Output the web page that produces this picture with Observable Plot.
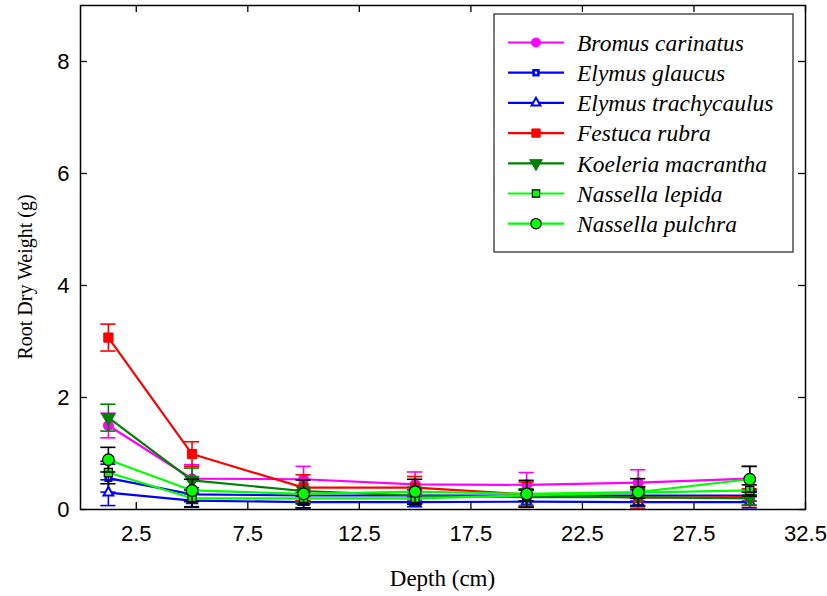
<!DOCTYPE html>
<html>
<head>
<meta charset="utf-8">
<script src="https://cdn.jsdelivr.net/npm/d3@7"></script>
<script src="https://cdn.jsdelivr.net/npm/@observablehq/plot@0.6"></script>
<style>
  body { margin: 0; background: #fff; }
  #chart svg { display: block; }
</style>
</head>
<body>
<div id="chart"></div>
<script>
// Root dry weight by soil depth for seven grass species (mean ± error)
const depth = [1.25, 5, 10, 15, 20, 25, 30];

const bromusMean   = [1.50, 0.55, 0.54, 0.45, 0.44, 0.48, 0.55];
const bromusErr    = [0.22, 0.25, 0.23, 0.22, 0.22, 0.23, 0.22];
const glaucusMean  = [0.56, 0.27, 0.25, 0.25, 0.25, 0.25, 0.25];
const glaucusErr   = [0.25, 0.12, 0.10, 0.10, 0.10, 0.10, 0.10];
const trachyMean   = [0.30, 0.16, 0.13, 0.13, 0.14, 0.13, 0.13];
const trachyErr    = [0.23, 0.12, 0.10, 0.08, 0.10, 0.08, 0.10];
const festucaMean  = [3.07, 0.99, 0.39, 0.39, 0.27, 0.21, 0.22];
const festucaErr   = [0.24, 0.22, 0.23, 0.20, 0.22, 0.20, 0.15];
const koeleriaMean = [1.64, 0.52, 0.33, 0.25, 0.22, 0.22, 0.20];
const koeleriaErr  = [0.24, 0.22, 0.20, 0.15, 0.15, 0.15, 0.12];
const lepidaMean   = [0.66, 0.20, 0.20, 0.20, 0.25, 0.30, 0.34];
const lepidaErr    = [0.20, 0.15, 0.10, 0.10, 0.10, 0.10, 0.10];
const pulchraMean  = [0.89, 0.34, 0.28, 0.32, 0.28, 0.31, 0.54];
const pulchraErr   = [0.22, 0.20, 0.25, 0.22, 0.24, 0.24, 0.23];

const xTicks = [2.5, 7.5, 12.5, 17.5, 22.5, 27.5, 32.5];
const yTicks = [0, 2, 4, 6, 8];

// downward-pointing triangle, sized like d3.symbolTriangle
const sqrt3 = Math.sqrt(3);
const triangleDown = {
  draw(context, size) {
    const y = -Math.sqrt(size / (sqrt3 * 3));
    context.moveTo(0, -y * 2);
    context.lineTo(-sqrt3 * y, y);
    context.lineTo(sqrt3 * y, y);
    context.closePath();
  }
};

const series = [
  {name: "Bromus carinatus",     mean: bromusMean,   err: bromusErr,   color: "#ff00ff", errColor: "#ff00ff", symbol: "circle",   fill: "#ff00ff", stroke: "#ff00ff", r: 5,   sw: 1},
  {name: "Elymus glaucus",       mean: glaucusMean,  err: glaucusErr,  color: "#0000ff", errColor: "#0000ff", symbol: "square",   fill: "#ffffff", stroke: "#0000ff", r: 3,   sw: 2.6},
  {name: "Elymus trachycaulus",  mean: trachyMean,   err: trachyErr,   color: "#0000ff", errColor: "#0000ff", symbol: "triangle", fill: "#ffffff", stroke: "#0000ff", r: 3.6, sw: 2},
  {name: "Festuca rubra",        mean: festucaMean,  err: festucaErr,  color: "#ff0000", errColor: "#ff0000", symbol: "square",   fill: "#ff0000", stroke: "#ff0000", r: 5.2, sw: 1},
  {name: "Koeleria macrantha",   mean: koeleriaMean, err: koeleriaErr, color: "#008000", errColor: "#008000", symbol: triangleDown, fill: "#008000", stroke: "#008000", r: 5.2, sw: 1},
  {name: "Nassella lepida",      mean: lepidaMean,   err: lepidaErr,   color: "#00ff00", errColor: "#000000", symbol: "square",   fill: "#00ff00", stroke: "#000000", r: 4.6, sw: 1.2},
  {name: "Nassella pulchra",     mean: pulchraMean,  err: pulchraErr,  color: "#00ff00", errColor: "#000000", symbol: "circle",   fill: "#00ff00", stroke: "#000000", r: 5.8, sw: 1.2}
];

const rows = series.flatMap(s => depth.map((x, i) => ({species: s.name, x, y: s.mean[i], e: s.err[i]})));

const W = 827, H = 596;
const mL = 80, mR = 22, mT = 5, mB = 87;
const innerW = W - mL - mR, innerH = H - mT - mB;
const capHalf = 0.34; // half width of the error-bar caps, in cm
const tickLen = 7;
const serif = "'Liberation Serif', 'Times New Roman', serif";

const seriesMarks = series.flatMap(s => {
  const data = rows.filter(d => d.species === s.name);
  return [
    Plot.ruleX(data, {x: "x", y1: d => d.y - d.e, y2: d => d.y + d.e, stroke: s.errColor, strokeWidth: 1.6}),
    Plot.ruleY(data, {y: d => d.y + d.e, x1: d => d.x - capHalf, x2: d => d.x + capHalf, stroke: s.errColor, strokeWidth: 1.6}),
    Plot.ruleY(data, {y: d => d.y - d.e, x1: d => d.x - capHalf, x2: d => d.x + capHalf, stroke: s.errColor, strokeWidth: 1.6}),
    Plot.line(data, {x: "x", y: "y", stroke: s.color, strokeWidth: 2.2}),
    Plot.dot(data, {x: "x", y: "y", symbol: s.symbol, r: s.r, fill: s.fill, stroke: s.stroke, strokeWidth: s.sw})
  ];
});

const chart = Plot.plot({
  width: W,
  height: H,
  marginLeft: mL,
  marginRight: mR,
  marginTop: mT,
  marginBottom: mB,
  style: {fontFamily: "'Liberation Sans', Arial, sans-serif", background: "#fff", overflow: "visible"},
  x: {domain: [0, 32.5]},
  y: {domain: [0, 9]},
  marks: [
    ...seriesMarks,
    // inward ticks on all four sides
    Plot.tickX(xTicks, {x: d => d, insetTop: innerH - tickLen, stroke: "#000", strokeWidth: 1.3}),
    Plot.tickX(xTicks, {x: d => d, insetBottom: innerH - tickLen, stroke: "#000", strokeWidth: 1.3}),
    Plot.tickY(yTicks, {y: d => d, insetRight: innerW - tickLen, stroke: "#000", strokeWidth: 1.3}),
    Plot.tickY(yTicks, {y: d => d, insetLeft: innerW - tickLen, stroke: "#000", strokeWidth: 1.3}),
    Plot.axisX({ticks: xTicks, tickSize: 0, tickPadding: 16, fontSize: 22, tickFormat: d => d.toFixed(1), label: null, fill: "#000"}),
    Plot.axisY({ticks: yTicks, tickSize: 0, tickPadding: 11, fontSize: 22, tickFormat: d => String(d), label: null, fill: "#000"}),
    Plot.frame({stroke: "#000", strokeWidth: 1.5})
  ]
});

document.getElementById("chart").append(chart);

const svg = d3.select(chart);

// axis titles
svg.append("text")
  .attr("x", mL + innerW / 2).attr("y", 586)
  .attr("text-anchor", "middle")
  .attr("font-family", serif).attr("font-size", 23).attr("fill", "#000")
  .text("Depth (cm)");
svg.append("text")
  .attr("transform", "translate(32,277) rotate(-90)")
  .attr("text-anchor", "middle")
  .attr("font-family", serif).attr("font-size", 20).attr("fill", "#000")
  .text("Root Dry Weight (g)");

// Legend box inside the plot area
const legend = svg.append("g").attr("transform", "translate(494,14)");
legend.append("rect")
  .attr("width", 299).attr("height", 238)
  .attr("fill", "#fff").attr("stroke", "#333").attr("stroke-width", 1.3);

const symbolType = s => {
  if (s.symbol === "circle") return d3.symbolCircle;
  if (s.symbol === "square") return d3.symbolSquare;
  if (s.symbol === "triangle") return d3.symbolTriangle;
  return triangleDown;
};

series.forEach((s, i) => {
  const y = 28.5 + i * 30.2;
  const row = legend.append("g").attr("transform", `translate(0,${y})`);
  row.append("line")
    .attr("x1", 14).attr("x2", 70).attr("y1", 0).attr("y2", 0)
    .attr("stroke", s.color).attr("stroke-width", 2.2);
  const rr = s.r * 0.9;
  row.append("path")
    .attr("transform", "translate(42,0)")
    .attr("d", d3.symbol(symbolType(s), Math.PI * rr * rr)())
    .attr("fill", s.fill).attr("stroke", s.stroke).attr("stroke-width", s.sw);
  row.append("text")
    .attr("x", 83).attr("y", 0).attr("dy", "0.35em")
    .attr("text-anchor", "start")
    .attr("font-family", serif)
    .attr("font-style", "italic")
    .attr("font-size", 23.5)
    .attr("fill", "#000")
    .text(s.name);
});
</script>
</body>
</html>
